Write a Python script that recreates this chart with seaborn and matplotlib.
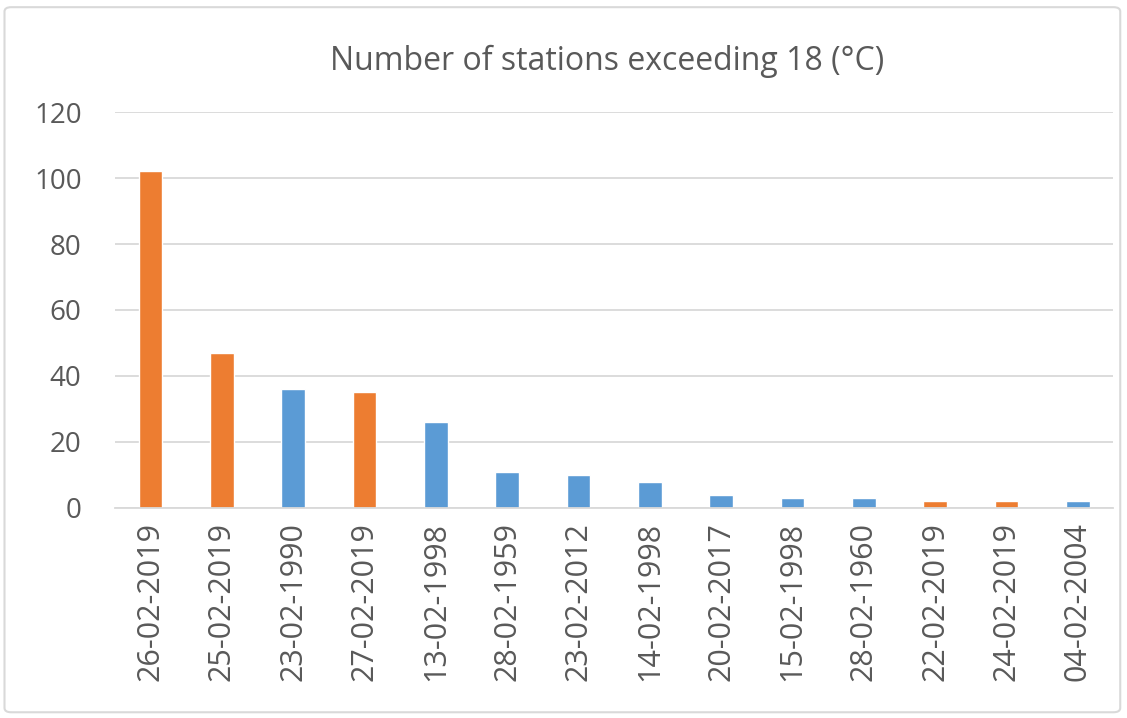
import matplotlib
matplotlib.use("Agg")
import matplotlib.pyplot as plt
import seaborn as sns
import pandas as pd
from matplotlib.patches import FancyBboxPatch

dates = ["26-02-2019", "25-02-2019", "23-02-1990", "27-02-2019", "13-02-1998",
         "28-02-1959", "23-02-2012", "14-02-1998", "20-02-2017", "15-02-1998",
         "28-02-1960", "22-02-2019", "24-02-2019", "04-02-2004"]
counts = [102, 47, 36, 35, 26, 11, 10, 8, 4, 3, 3, 2, 2, 2]
groups = ["2019", "2019", "other", "2019", "other", "other", "other", "other",
          "other", "other", "other", "2019", "2019", "other"]
title = "Number of stations exceeding 18 (°C)"
yticks = [0, 20, 40, 60, 80, 100, 120]

palette = {"2019": "#ED7D31", "other": "#5B9BD5"}

df = pd.DataFrame({"date": dates, "count": counts, "group": groups})

sns.set_theme(style="white")
plt.rcParams["font.family"] = ["Open Sans", "DejaVu Sans"]

fig = plt.figure(figsize=(11.27, 7.18), dpi=100)
ax = fig.add_axes([0.102, 0.2925, 0.886, 0.5515])

sns.barplot(data=df, x="date", y="count", hue="group", palette=palette,
            dodge=False, width=0.33, legend=False, ax=ax, saturation=1)

ax.set_ylim(0, 120)
ax.set_xlim(-0.5, len(dates) - 0.5)
ax.set_yticks(yticks)
ax.yaxis.grid(True, color="#d9d9d9", linewidth=1.3)
ax.set_axisbelow(True)
for s in ["top", "left", "right"]:
    ax.spines[s].set_visible(False)
ax.spines["bottom"].set_color("#d9d9d9")
ax.spines["bottom"].set_linewidth(1.3)
ax.set_xlabel("")
ax.set_ylabel("")
ax.tick_params(axis="y", labelsize=20, colors="#595959", length=0, pad=24)
ax.tick_params(axis="x", labelsize=22, colors="#595959", length=0, pad=10,
               labelrotation=90)

fig.text(0.539, 0.914, title, ha="center", va="center", fontsize=23,
         color="#595959")

border = FancyBboxPatch((0.004, 0.008), 0.99, 0.982,
                        boxstyle="round,pad=0,rounding_size=0.006",
                        transform=fig.transFigure, fill=False,
                        edgecolor="#d9d9d9", linewidth=1.5)
fig.patches.append(border)

fig.savefig("out.png", dpi=100)
